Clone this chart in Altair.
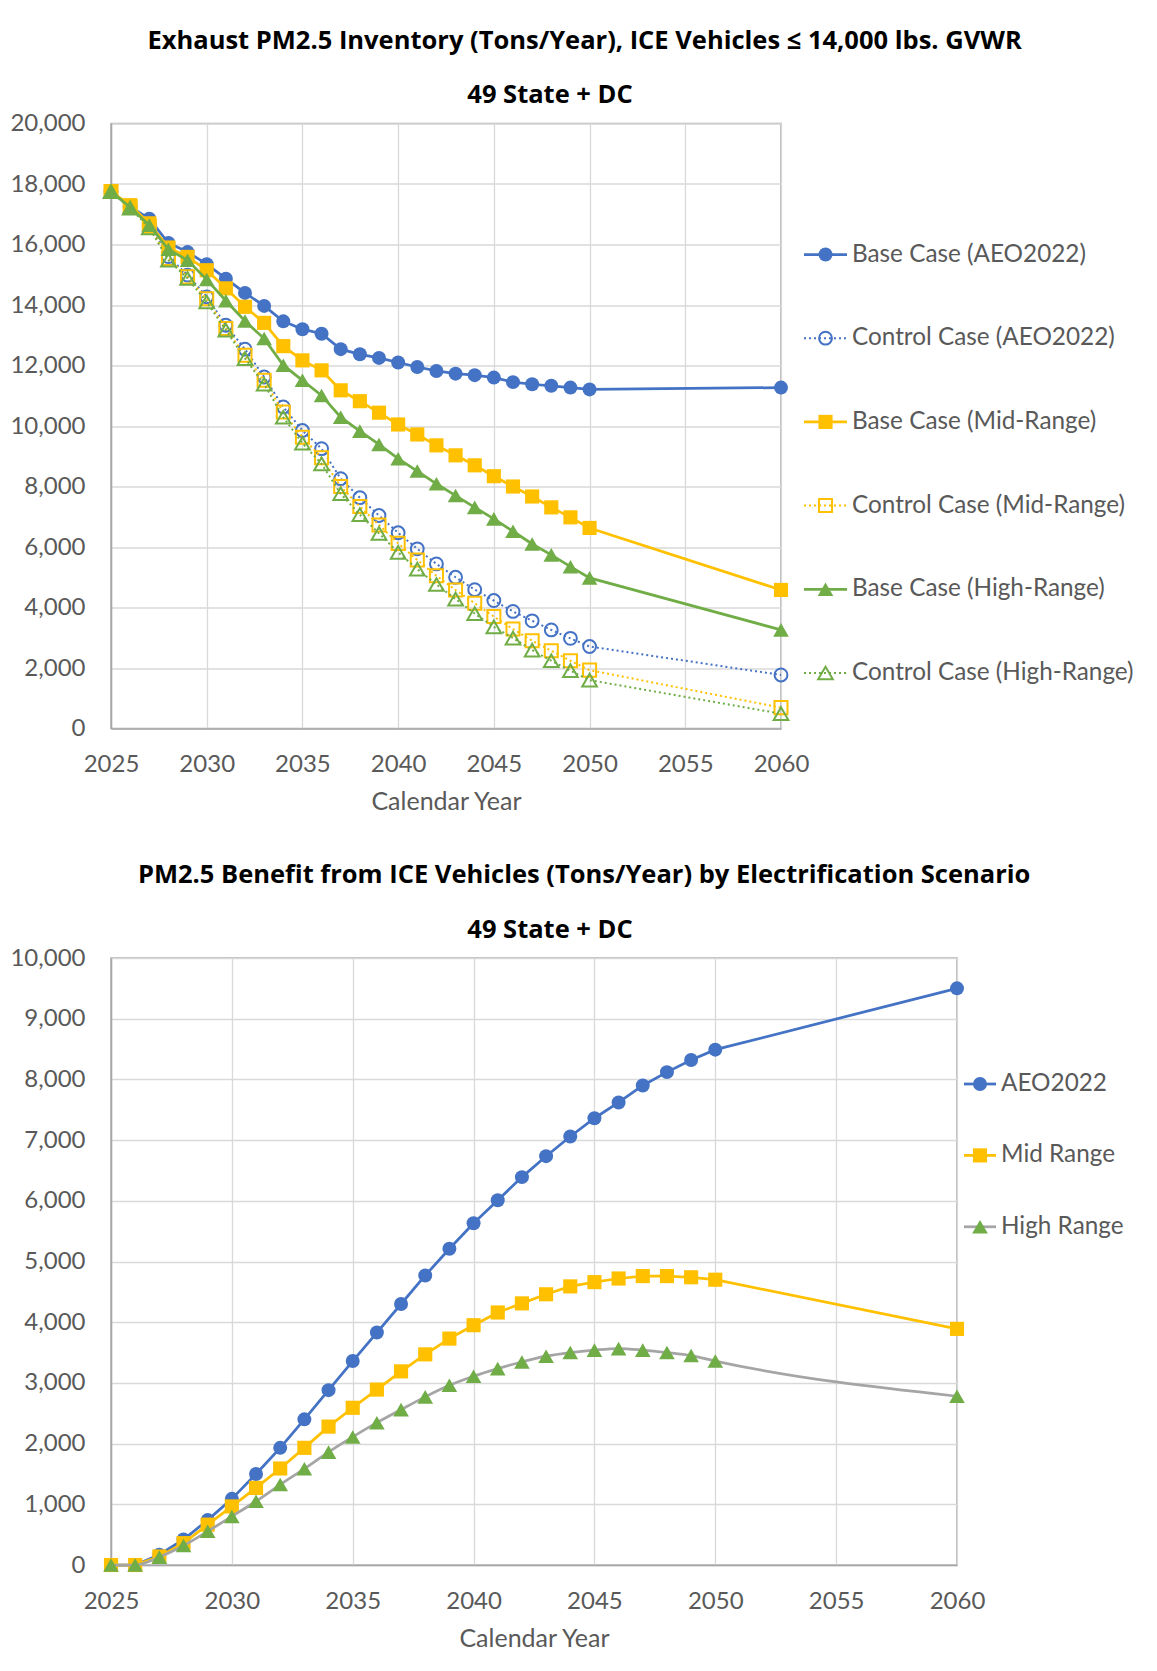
import altair as alt
import pandas as pd

years = list(range(2025, 2051)) + [2060]

# ---- Top chart: exhaust PM2.5 inventory (tons/year)
base_aeo = [17750, 17250, 16850, 16050, 15750, 15350, 14870, 14400, 13970, 13460, 13200, 13050, 12540,
            12370, 12250, 12100, 11950, 11820, 11730, 11680, 11600, 11450, 11380, 11330, 11270, 11210, 11270]
control_aeo = [17750, 17250, 16650, 15600, 14990, 14270, 13330, 12540, 11620, 10630, 9850, 9250, 8260,
               7630, 7040, 6470, 5940, 5440, 5000, 4590, 4230, 3870, 3560, 3260, 2980, 2710, 1770]
base_mid = [17750, 17300, 16700, 15900, 15590, 15150, 14550, 13940, 13410, 12640, 12170, 11840, 11180,
            10820, 10440, 10050, 9720, 9360, 9030, 8700, 8340, 8000, 7670, 7310, 6980, 6630, 4580]
control_mid = [17750, 17250, 16600, 15540, 14930, 14210, 13220, 12340, 11510, 10460, 9630, 8950, 8000,
               7340, 6730, 6120, 5570, 5050, 4580, 4140, 3700, 3290, 2900, 2570, 2240, 1930, 690]
base_high = [17750, 17230, 16640, 15840, 15480, 14840, 14140, 13470, 12890, 12010, 11510, 11010, 10290,
             9830, 9390, 8920, 8510, 8090, 7700, 7310, 6930, 6520, 6100, 5740, 5350, 4980, 3260]
control_high = [17750, 17200, 16550, 15480, 14880, 14100, 13170, 12230, 11380, 10290, 9430, 8750, 7760,
                7070, 6450, 5820, 5270, 4760, 4280, 3800, 3360, 2990, 2590, 2240, 1910, 1600, 490]

top_names = ["Base Case (AEO2022)", "Control Case (AEO2022)", "Base Case (Mid-Range)",
             "Control Case (Mid-Range)", "Base Case (High-Range)", "Control Case (High-Range)"]
top_values = [base_aeo, control_aeo, base_mid, control_mid, base_high, control_high]

# ---- Bottom chart: PM2.5 benefit (tons/year)
benefit_aeo = [0, 0, 170, 420, 740, 1090, 1500, 1930, 2400, 2880, 3360, 3830, 4300, 4770, 5210, 5630,
               6010, 6390, 6735, 7060, 7360, 7620, 7900, 8120, 8320, 8490, 9500]
benefit_mid = [0, 0, 140, 360, 665, 965, 1270, 1590, 1930, 2280, 2590, 2890, 3190, 3470, 3730, 3950,
               4160, 4310, 4460, 4590, 4660, 4720, 4760, 4760, 4740, 4700, 3890]
benefit_high = [0, 0, 130, 320, 555, 800, 1050, 1325, 1585, 1860, 2110, 2345, 2560, 2770, 2960, 3110,
                3235, 3345, 3440, 3500, 3540, 3565, 3540, 3500, 3450, 3360, 2780]

bot_names = ["AEO2022", "Mid Range", "High Range"]
bot_values = [benefit_aeo, benefit_mid, benefit_high]

x_ticks = [2025, 2030, 2035, 2040, 2045, 2050, 2055, 2060]

BLUE, GOLD, GREEN, GRAY = "#4472C4", "#FFC000", "#70AD47", "#A5A5A5"
TXT = "#595959"
FONT = "Lato"
TFONT = "Open Sans"
TSIZE = 25.5
DOT = [2, 3]
SIZES = {"circle": 195, "square": 200, "triangle-up": 245}

# style per series: (marker colour, line colour, dash, shape, filled, interpolate)
top_styles = [
    (BLUE, BLUE, None, "circle", True, "linear"),
    (BLUE, BLUE, DOT, "circle", False, "linear"),
    (GOLD, GOLD, None, "square", True, "linear"),
    (GOLD, GOLD, DOT, "square", False, "linear"),
    (GREEN, GREEN, None, "triangle-up", True, "linear"),
    (GREEN, GREEN, DOT, "triangle-up", False, "linear"),
]
bot_styles = [
    (BLUE, BLUE, None, "circle", True, "linear"),
    (GOLD, GOLD, None, "square", True, "linear"),
    (GREEN, GRAY, None, "triangle-up", True, "monotone"),
]


def long_table(names, values):
    rows = []
    for n, vals in zip(names, values):
        for yr, v in zip(years, vals):
            rows.append({"series": n, "year": yr, "value": v})
    return pd.DataFrame(rows)


def line_marker(mcolor, lcolor, dash, shape, filled, interp):
    lkw = dict(color=lcolor, strokeWidth=2.75, interpolate=interp)
    if dash is not None:
        lkw["strokeDash"] = dash
        lkw["strokeWidth"] = 2
    pkw = dict(shape=shape, filled=filled, color=mcolor, size=SIZES[shape], opacity=1)
    if not filled:
        pkw["strokeWidth"] = 2
        pkw["size"] = SIZES[shape] - 30
    return lkw, pkw


def title_params(text, dx, offset):
    return alt.TitleParams(text=text, anchor="middle", dx=dx, offset=offset,
                           fontSize=TSIZE, font=TFONT, fontWeight="bold", color="#000000")


def main_chart(names, values, styles, ymax, ystep, width, height, sub, sub_dx):
    df = long_table(names, values)
    x = alt.X("year:Q", scale=alt.Scale(domain=[2025, 2060], nice=False, zero=False),
              axis=alt.Axis(values=x_ticks, format="d", title="Calendar Year", grid=True,
                            ticks=False, labelPadding=24, titlePadding=13, labelFlush=False,
                            domainColor="#A6A6A6", domainWidth=1.5))
    y = alt.Y("value:Q", scale=alt.Scale(domain=[0, ymax], nice=False),
              axis=alt.Axis(values=list(range(0, ymax + 1, ystep)), format=",d", title=None,
                            grid=True, ticks=False, labelPadding=26, domainColor="#A6A6A6",
                            domainWidth=1.5, minExtent=100, maxExtent=100))
    layers = []
    for n, st in zip(names, styles):
        lkw, pkw = line_marker(*st)
        base = alt.Chart(df).transform_filter(alt.datum.series == n)
        layers.append(base.mark_line(**lkw).encode(x=x, y=y))
        layers.append(base.mark_point(**pkw).encode(x=x, y=y))
    return alt.layer(*layers).properties(width=width, height=height,
                                         title=title_params(sub, sub_dx, 3))


def legend_chart(names, styles, seg, first, step, width, height):
    rows = []
    for i, n in enumerate(names):
        rows.append({"series": n, "idx": i, "lx": 0})
        rows.append({"series": n, "idx": i, "lx": seg})
    ldf = pd.DataFrame(rows)
    lo = -first / step
    hi = (height - first) / step
    xs = alt.Scale(domain=[0, width], nice=False, zero=False)
    ys = alt.Scale(domain=[lo, hi], reverse=True, nice=False, zero=False)
    ex = alt.X("lx:Q", scale=xs, axis=None)
    ey = alt.Y("idx:Q", scale=ys, axis=None)
    layers = []
    for n, st in zip(names, styles):
        lkw, pkw = line_marker(*st)
        lkw["interpolate"] = "linear"
        base = alt.Chart(ldf).transform_filter(alt.datum.series == n)
        layers.append(base.mark_line(**lkw).encode(x=ex, y=ey))
        layers.append(base.transform_filter(alt.datum.lx == 0).mark_point(**pkw).encode(
            x=ex, y=ey, xOffset=alt.value(seg / 2)))
    text = alt.Chart(ldf).transform_filter(alt.datum.lx == 0).mark_text(
        align="left", baseline="middle", fontSize=24.3, color=TXT, font=FONT, dx=seg + 5
    ).encode(x=ex, y=ey, text="series:N")
    layers.append(text)
    return alt.layer(*layers).properties(width=width, height=height, view=alt.ViewConfig(stroke=None))


top_main = main_chart(top_names, top_values, top_styles, 20000, 2000, 670, 605, "49 State + DC", 104)
top_leg = legend_chart(top_names, top_styles, 43, 131, 83.7, 340, 605)
top = alt.hconcat(top_main, top_leg, spacing=23, bounds="flush").properties(
    title=title_params("Exhaust PM2.5 Inventory (Tons/Year), ICE Vehicles \u2264 14,000 lbs. GVWR", 8, 28))

bot_main = main_chart(bot_names, bot_values, bot_styles, 10000, 1000, 846, 607, "49 State + DC", 16)
bot_leg = legend_chart(bot_names, bot_styles, 32, 126, 71.4, 190, 607)
bot = alt.hconcat(bot_main, bot_leg, spacing=7, bounds="flush").properties(
    title=title_params("PM2.5 Benefit from ICE Vehicles (Tons/Year) by Electrification Scenario", 2.5, 28))

chart = alt.vconcat(top, bot, spacing=47.5).properties(
    padding={"left": 9, "top": 28.5, "right": 0, "bottom": 0},
    background="white",
).configure_view(stroke="#ABABAB", strokeWidth=1.5).configure_axis(
    labelFont=FONT, labelFontSize=24, labelColor=TXT, titleFont=FONT, titleFontSize=25,
    titleColor=TXT, titleFontWeight="normal", gridColor="#D9D9D9", gridWidth=1.3
)

chart.save("out.html", embed_options={"renderer": "svg", "actions": False})
